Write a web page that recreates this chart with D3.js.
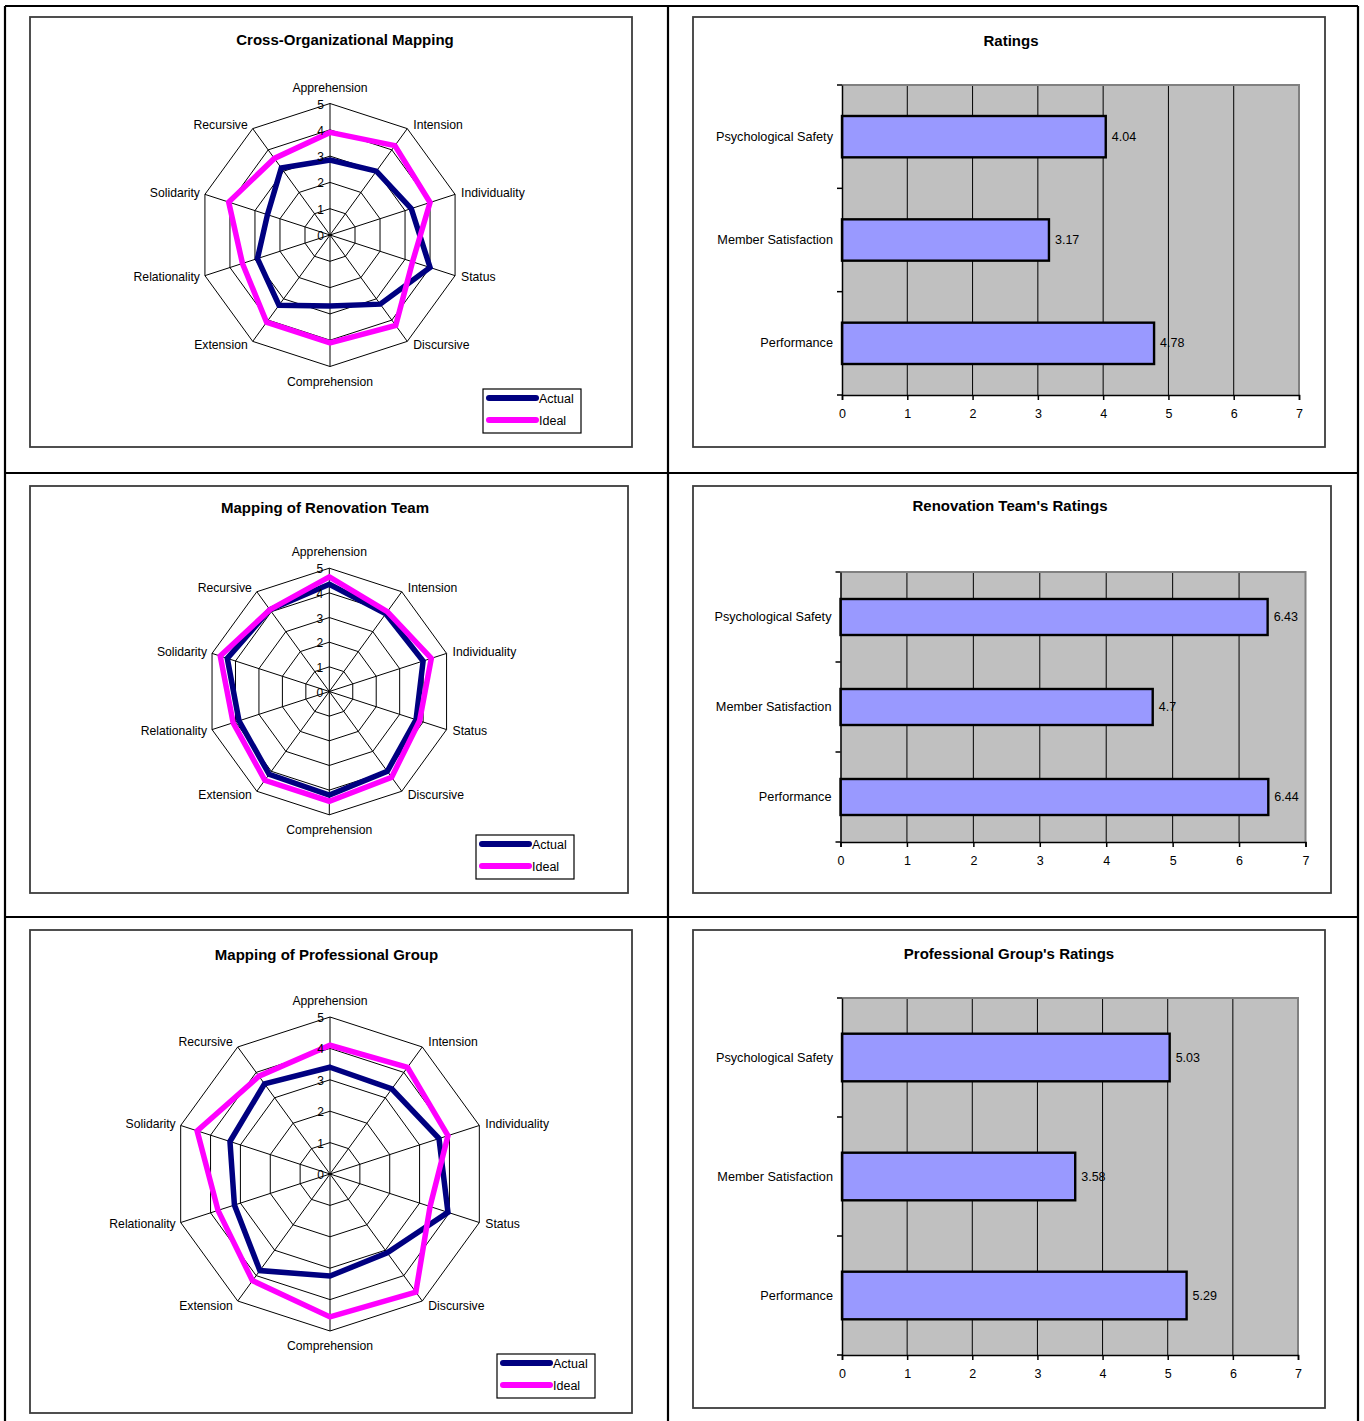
<!DOCTYPE html>
<html>
<head>
<meta charset="utf-8">
<title>Team Mapping and Ratings</title>
<script src="https://cdn.jsdelivr.net/npm/d3@7"></script>
<style>
  html, body { margin: 0; padding: 0; background: #fff; }
  svg { display: block; font-family: "Liberation Sans", Arial, sans-serif; }
</style>
</head>
<body>
<svg id="page" width="1364" height="1421"></svg>
<script>
// ---- data ----
const radarAxes = ["Apprehension", "Intension", "Individuality", "Status", "Discursive",
                   "Comprehension", "Extension", "Relationality", "Solidarity", "Recursive"];
const radarTicks = [0, 1, 2, 3, 4, 5];
const seriesNames = ["Actual", "Ideal"];

const crossOrgActual = [2.85, 3.0, 3.25, 4.0, 3.25, 2.7, 3.3, 2.9, 2.5, 3.15];
const crossOrgIdeal  = [3.9, 4.2, 4.0, 3.3, 4.25, 4.1, 4.1, 3.5, 4.05, 3.6];

const renovationActual = [4.35, 3.9, 4.0, 3.7, 4.0, 4.2, 4.15, 3.85, 4.35, 4.1];
const renovationIdeal  = [4.65, 4.0, 4.35, 3.85, 4.3, 4.45, 4.45, 4.1, 4.65, 4.1];

const professionalActual = [3.4, 3.35, 3.65, 3.95, 3.1, 3.25, 3.8, 3.2, 3.35, 3.55];
const professionalIdeal  = [4.1, 4.2, 3.95, 3.35, 4.65, 4.55, 4.2, 3.75, 4.45, 3.85];

const ratingCategories = ["Psychological Safety", "Member Satisfaction", "Performance"];
const ratingTicks = [0, 1, 2, 3, 4, 5, 6, 7];
const ratingsOverall      = [4.04, 3.17, 4.78];
const ratingsRenovation   = [6.43, 4.7, 6.44];
const ratingsProfessional = [5.03, 3.58, 5.29];

// ---- styles ----
const NAVY = "#000080", MAGENTA = "#FF00FF", BAR = "#9999FF", PLOT_BG = "#C0C0C0";

const svg = d3.select("#page");

// outer table rules
const tableLines = [
  [5, 6, 1358, 6], [5, 473, 1358, 473], [5, 917, 1358, 917],
  [5, 6, 5, 1421], [668, 6, 668, 1421], [1358, 6, 1358, 1421]
];
svg.append("g").selectAll("line").data(tableLines).join("line")
  .attr("x1", d => d[0]).attr("y1", d => d[1]).attr("x2", d => d[2]).attr("y2", d => d[3])
  .attr("stroke", "#000").attr("stroke-width", 2.2);

function chartFrame(b) {
  svg.append("rect").attr("x", b.x).attr("y", b.y).attr("width", b.w).attr("height", b.h)
    .attr("fill", "#fff").attr("stroke", "#3c3c3c").attr("stroke-width", 1.8);
  svg.append("text").attr("x", b.tx).attr("y", b.ty).attr("text-anchor", "middle")
    .attr("dominant-baseline", "central").attr("font-weight", "bold").attr("font-size", 15)
    .text(b.title);
}

// ---- radar chart ----
function drawRadar(cfg) {
  chartFrame(cfg.box);
  const n = radarAxes.length;
  const ang = i => i * 2 * Math.PI / n;
  const r = d3.scaleLinear().domain([0, 5]).range([0, cfg.R]);
  const g = svg.append("g").attr("transform", `translate(${cfg.cx},${cfg.cy})`);

  const ring = d3.lineRadial().curve(d3.curveLinearClosed);
  // rings
  g.append("g").selectAll("path").data(radarTicks.slice(1)).join("path")
    .attr("d", t => ring(radarAxes.map((_, i) => [ang(i), r(t)])))
    .attr("fill", "none").attr("stroke", "#000").attr("stroke-width", 1);
  // spokes
  g.append("g").selectAll("line").data(radarAxes).join("line")
    .attr("x1", 0).attr("y1", 0)
    .attr("x2", (_, i) => r(5) * Math.sin(ang(i)))
    .attr("y2", (_, i) => -r(5) * Math.cos(ang(i)))
    .attr("stroke", "#000").attr("stroke-width", 1);

  // series lines (Ideal drawn last, on top)
  const series = [[cfg.actual, NAVY], [cfg.ideal, MAGENTA]];
  g.append("g").selectAll("path").data(series).join("path")
    .attr("d", s => ring(s[0].map((v, i) => [ang(i), r(v)])))
    .attr("fill", "none").attr("stroke", s => s[1]).attr("stroke-width", 5.5)
    .attr("stroke-linejoin", "miter").attr("stroke-miterlimit", 4);

  // scale labels on the top spoke
  g.append("g").selectAll("text").data(radarTicks).join("text")
    .attr("x", -6).attr("y", t => -r(t) + 1)
    .attr("text-anchor", "end").attr("dominant-baseline", "central")
    .attr("font-size", 12).text(t => t);

  // axis labels
  const diag = cfg.R * 0.03;
  g.append("g").selectAll("text").data(radarAxes).join("text")
    .attr("font-size", 12.2).attr("dominant-baseline", "central")
    .each(function (name, i) {
      const vx = r(5) * Math.sin(ang(i)), vy = -r(5) * Math.cos(ang(i));
      const t = d3.select(this);
      if (i === 0) { t.attr("x", vx).attr("y", vy - 16).attr("text-anchor", "middle"); }
      else if (i === 5) { t.attr("x", vx).attr("y", vy + 15).attr("text-anchor", "middle"); }
      else {
        const right = i < 5;
        const dyMap = { 1: -diag, 2: -1.5, 3: 1.5, 4: diag, 6: diag, 7: 1.5, 8: -1.5, 9: -diag };
        t.attr("x", vx + (right ? 6 : -5)).attr("y", vy + dyMap[i])
          .attr("text-anchor", right ? "start" : "end");
      }
    })
    .text(d => d);

  // legend
  const L = cfg.legend;
  const lg = svg.append("g").attr("transform", `translate(${L.x},${L.y})`);
  lg.append("rect").attr("width", 98).attr("height", 44)
    .attr("fill", "#fff").attr("stroke", "#000").attr("stroke-width", 1.2);
  const items = lg.selectAll("g").data(seriesNames).join("g")
    .attr("transform", (_, i) => `translate(0,${9 + i * 22})`);
  items.append("line").attr("x1", 6).attr("x2", 53).attr("y1", 0).attr("y2", 0)
    .attr("stroke", (_, i) => i === 0 ? NAVY : MAGENTA)
    .attr("stroke-width", 6).attr("stroke-linecap", "round");
  items.append("text").attr("x", 56).attr("y", 1).attr("dominant-baseline", "central")
    .attr("font-size", 12.5).text(d => d);
}

// ---- horizontal bar chart ----
function drawBars(cfg) {
  chartFrame(cfg.box);
  const P = cfg.plot;
  const x = d3.scaleLinear().domain([0, 7]).range([P.x0, P.x1]);
  const y = d3.scaleBand().domain(ratingCategories).range([P.y0, P.y1]).paddingInner(0.6).paddingOuter(0.3);
  const yBand = d3.scaleBand().domain(ratingCategories).range([P.y0, P.y1]);

  svg.append("rect").attr("x", P.x0).attr("y", P.y0)
    .attr("width", P.x1 - P.x0).attr("height", P.y1 - P.y0).attr("fill", PLOT_BG);

  // vertical gridlines
  svg.append("g").selectAll("line").data(ratingTicks.slice(1, -1)).join("line")
    .attr("x1", d => x(d)).attr("x2", d => x(d)).attr("y1", P.y0).attr("y2", P.y1)
    .attr("stroke", "#000").attr("stroke-width", 1);

  // plot border (top and right)
  svg.append("path")
    .attr("d", `M${P.x0},${P.y0}H${P.x1}V${P.y1}`)
    .attr("fill", "none").attr("stroke", "#808080").attr("stroke-width", 2);

  // bars
  svg.append("g").selectAll("rect").data(cfg.values).join("rect")
    .attr("x", x(0)).attr("y", (_, i) => y(ratingCategories[i]))
    .attr("width", d => x(d) - x(0)).attr("height", y.bandwidth())
    .attr("fill", BAR).attr("stroke", "#000").attr("stroke-width", 2.4);

  // value labels
  svg.append("g").selectAll("text").data(cfg.values).join("text")
    .attr("x", d => x(d) + 6)
    .attr("y", (_, i) => y(ratingCategories[i]) + y.bandwidth() / 2)
    .attr("dominant-baseline", "central").attr("font-size", 12.5)
    .text(d => String(d));

  // bottom axis
  const xa = svg.append("g").attr("transform", `translate(0,${P.y1})`)
    .call(d3.axisBottom(x).tickValues(ratingTicks).tickSize(5).tickPadding(9).tickFormat(d3.format("d")));
  xa.selectAll("path, line").attr("stroke", "#000").attr("stroke-width", 1.5);
  xa.selectAll("text").attr("font-size", 12.5).attr("font-family", "Liberation Sans, Arial, sans-serif").attr("fill", "#000");

  // left axis with category labels and boundary ticks
  const ya = svg.append("g").attr("transform", `translate(${P.x0},0)`)
    .call(d3.axisLeft(yBand).tickSize(0).tickPadding(9));
  ya.select("path").attr("stroke", "#000").attr("stroke-width", 1.5);
  ya.selectAll("text").attr("font-size", 12.7).attr("font-family", "Liberation Sans, Arial, sans-serif").attr("fill", "#000");
  const bounds = ratingCategories.map(c => yBand(c)).concat([P.y1]);
  svg.append("g").selectAll("line").data(bounds).join("line")
    .attr("x1", P.x0 - 5).attr("x2", P.x0).attr("y1", d => d).attr("y2", d => d)
    .attr("stroke", "#000").attr("stroke-width", 1.5);
}

// ---- layout ----
drawRadar({
  box: { x: 30, y: 17, w: 602, h: 430, title: "Cross-Organizational Mapping", tx: 345, ty: 39 },
  cx: 330, cy: 235, R: 131.5,
  actual: crossOrgActual, ideal: crossOrgIdeal,
  legend: { x: 483, y: 389 }
});
drawRadar({
  box: { x: 30, y: 486, w: 598, h: 407, title: "Mapping of Renovation Team", tx: 325, ty: 507 },
  cx: 329.3, cy: 691.5, R: 123.3,
  actual: renovationActual, ideal: renovationIdeal,
  legend: { x: 476, y: 835 }
});
drawRadar({
  box: { x: 30, y: 930, w: 602, h: 483, title: "Mapping of Professional Group", tx: 326.5, ty: 954 },
  cx: 330, cy: 1174, R: 157,
  actual: professionalActual, ideal: professionalIdeal,
  legend: { x: 497, y: 1354 }
});

drawBars({
  box: { x: 693, y: 17, w: 632, h: 430, title: "Ratings", tx: 1011, ty: 40 },
  plot: { x0: 842, x1: 1299, y0: 85, y1: 395 },
  values: ratingsOverall
});
drawBars({
  box: { x: 693, y: 486, w: 638, h: 407, title: "Renovation Team's Ratings", tx: 1010, ty: 505 },
  plot: { x0: 840.5, x1: 1305.5, y0: 572, y1: 842 },
  values: ratingsRenovation
});
drawBars({
  box: { x: 693, y: 930, w: 632, h: 478, title: "Professional Group's Ratings", tx: 1009, ty: 953 },
  plot: { x0: 842, x1: 1298, y0: 998, y1: 1355 },
  values: ratingsProfessional
});
</script>
</body>
</html>
